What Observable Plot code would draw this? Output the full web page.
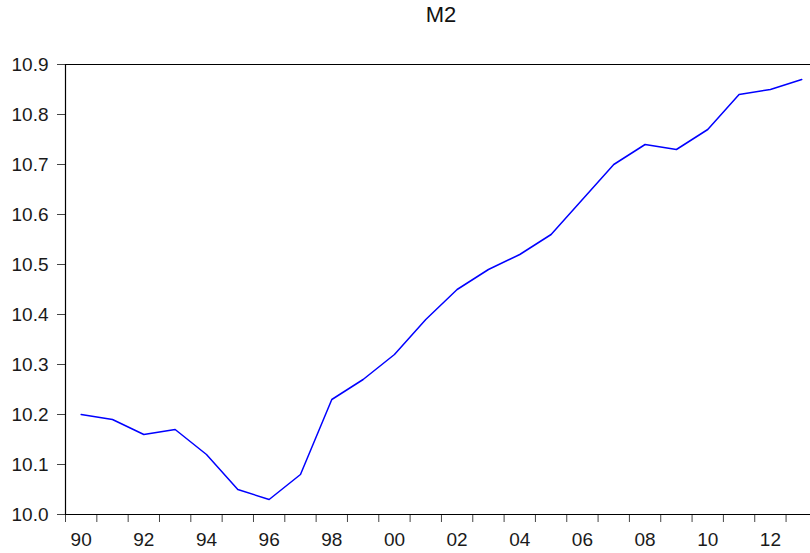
<!DOCTYPE html>
<html>
<head>
<meta charset="utf-8">
<script src="https://cdn.jsdelivr.net/npm/d3@7"></script>
<script src="https://cdn.jsdelivr.net/npm/@observablehq/plot@0.6"></script>
<style>
  html, body { margin: 0; padding: 0; background: #fff; overflow: hidden; }
  #title { box-sizing: border-box; width: 817px; padding-left: 65px; height: 30px; line-height: 30px;
           text-align: center; font-family: "Liberation Sans", Arial, sans-serif; font-size: 22px; color: #111; }
</style>
</head>
<body>
<div id="title">M2</div>
<div id="chart"></div>
<script>
const years = [1990,1991,1992,1993,1994,1995,1996,1997,1998,1999,2000,2001,2002,2003,2004,2005,2006,2007,2008,2009,2010,2011,2012,2013];
const m2 = [10.20,10.19,10.16,10.17,10.12,10.05,10.03,10.08,10.23,10.27,10.32,10.39,10.45,10.49,10.52,10.56,10.63,10.70,10.74,10.73,10.77,10.84,10.85,10.87];
const yTicks = [10.0,10.1,10.2,10.3,10.4,10.5,10.6,10.7,10.8,10.9];
const labelYears = [1990,1992,1994,1996,1998,2000,2002,2004,2006,2008,2010,2012];
const yearEdges = years.map(y => y - 0.5);

const data = years.map((y, i) => ({year: y, value: m2[i]}));

const chart = Plot.plot({
  width: 810,
  height: 523,
  marginLeft: 65,
  marginRight: 0,
  marginTop: 34,
  marginBottom: 39,
  x: {domain: [1989.5, 2013.28]},
  y: {domain: [10.0, 10.9]},
  style: {fontFamily: "'Liberation Sans', Arial, sans-serif", fontSize: "19px", color: "#1a1a1a", background: "#fff"},
  marks: [
    Plot.axisY({ticks: yTicks, tickSize: 8, tickPadding: 9, tickFormat: d3.format(".1f"), label: null, stroke: "#444"}),
    Plot.axisX({ticks: yearEdges, tickSize: 8, tickFormat: () => "", label: null, stroke: "#444"}),
    Plot.axisX({ticks: labelYears, tickSize: 0, tickPadding: 18, tickFormat: d => String(d % 100).padStart(2, "0"), label: null}),
    Plot.ruleY([10.0, 10.9], {stroke: "#000", strokeWidth: 1.2}),
    Plot.ruleX([1989.5], {stroke: "#000", strokeWidth: 1.2}),
    Plot.line(data, {x: "year", y: "value", stroke: "#0000ff", strokeWidth: 1.5})
  ]
});
document.getElementById("chart").appendChild(chart);
</script>
</body>
</html>
